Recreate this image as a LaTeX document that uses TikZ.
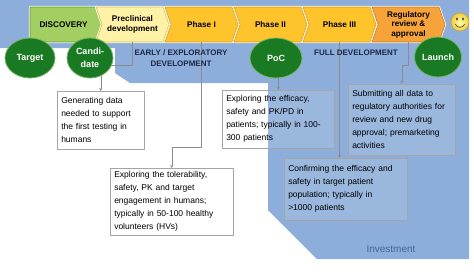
\documentclass[tikz,border=0pt]{standalone}
\usepackage{fontspec}
\setmainfont{Liberation Sans}
\usetikzlibrary{shapes.geometric,shapes.symbols}
\definecolor{invblue}{RGB}{141,174,218}
\definecolor{discgreen}{RGB}{163,207,98}
\definecolor{discedge}{RGB}{104,150,52}
\definecolor{preyellow}{RGB}{255,242,166}
\definecolor{preedge}{RGB}{214,190,90}
\definecolor{phaseyellow}{RGB}{255,196,44}
\definecolor{phaseedge}{RGB}{212,158,30}
\definecolor{regorange}{RGB}{246,164,58}
\definecolor{regedge}{RGB}{200,124,32}
\definecolor{milegreen}{RGB}{26,122,36}
\definecolor{mileedge}{RGB}{120,180,100}
\definecolor{navy}{RGB}{28,40,72}
\definecolor{linegray}{RGB}{140,140,140}
\definecolor{boxedge}{RGB}{165,165,165}
\definecolor{invtext}{RGB}{70,100,150}
\definecolor{smileyellow}{RGB}{240,205,60}
\begin{document}
\begin{tikzpicture}[x=1pt, y=-1pt, line join=round, >=stealth,
	chevron/.style={signal, signal to=east, signal from=west, signal pointer angle=142,
		minimum width=73pt, minimum height=35pt, inner sep=0pt, align=center,
		font=\fontsize{8.2}{9.4}\selectfont\bfseries, line width=0.6pt,
		preaction={draw=white, line width=2.2pt}},
	milestone/.style={ellipse, fill=milegreen, draw=mileedge, line width=0.8pt, inner sep=0pt,
		minimum height=40pt, text=white, align=center, font=\fontsize{9}{12.5}\selectfont\bfseries},
	infobox/.style={draw=boxedge, line width=0.5pt, fill=white, fill opacity=0.12, text opacity=1,
		anchor=north west, align=left, inner xsep=4pt, inner ysep=2pt, font=\fontsize{8.5}{13}\selectfont},
	conn/.style={draw=linegray, line width=0.5pt, ->},
	stage/.style={text=navy, align=center, font=\fontsize{8}{11}\selectfont\bfseries}]
				
				\useasboundingbox (0,0) rectangle (474,271);
				
				\def\cy{24.5}
				\def\ey{58}
				
				\fill[invblue] (0,0) -- (469,0) -- (469,259) -- (317,259) -- (268,210) -- (268,83)
				-- (130,83) -- (115,73) -- (115,48) -- (0,48) -- cycle;
				
				\node[infobox, text width=79pt, minimum height=58pt] (gen) at (57,91)
				{Generating data\\needed to support\\the first testing in\\humans};
				\node[infobox, text width=115pt, minimum height=67pt] (tol) at (110,168)
				{Exploring the tolerability,\\safety, PK and target\\engagement in humans;\\typically in 50-100 healthy\\volunteers (HVs)};
				\node[infobox, text width=104pt, minimum height=58pt] (eff) at (222,90)
				{Exploring the efficacy,\\safety and PK/PD in\\patients; typically in 100-\\300 patients};
				\node[infobox, text width=99pt, minimum height=71pt] (sub) at (348,84)
				{Submitting all data to\\regulatory authorities for\\review and new drug\\approval; premarketing\\activities};
				\node[infobox, text width=115pt, minimum height=62pt] (conf) at (284,158)
				{Confirming the efficacy and\\safety in target patient\\population; typically in\\>1000 patients};
				
				\node[chevron, signal from=nowhere, fill=discgreen, draw=discedge] (disc) at (63.5,\cy) {DISCOVERY};
				\node[chevron, fill=preyellow, draw=preedge] (pre) at (132.5,\cy) {Preclinical\\development};
				\node[chevron, fill=phaseyellow, draw=phaseedge] (p1) at (201.5,\cy) {Phase I};
				\node[chevron, fill=phaseyellow, draw=phaseedge] (p2) at (270.5,\cy) {Phase II};
				\node[chevron, fill=phaseyellow, draw=phaseedge] (p3) at (339.5,\cy) {Phase III};
				\node[chevron, fill=regorange, draw=regedge] (reg) at (408.5,\cy) {Regulatory\\review \&\\approval};
				
				\draw[conn] (pre.south) -- ++(0,23) -| (gen.north);
				\draw[conn] (p1.south) -- ++(0,105) -| (tol.north);
				\draw[conn] (p2.south -| eff.north) -- (eff.north);
				\draw[conn] (p3.south) -- (p3.south |- conf.north);
				\draw[conn] (reg.south) -- ++(0,23) -| (sub.north);
				
				\node[milestone, minimum width=50pt] (target) at (30,\ey) {Target};
				\node[milestone, minimum width=46pt] (cand) at (90,\ey) {Candi-\\date};
				\node[milestone, minimum width=52pt] (poc) at (276,\ey) {PoC};
				\node[milestone, minimum width=47pt] (launch) at (438,57) {Launch};
				
				\node[stage] (early) at (181,58.5) {EARLY / EXPLORATORY\\DEVELOPMENT};
				\node[stage] (full) at (356,53) {FULL DEVELOPMENT};
				\node[text=invtext, font=\fontsize{10}{12}\selectfont] (inv) at (391,249) {Investment};
				
				% smiley
				\shade[inner color=yellow!35, outer color=smileyellow, draw=phaseedge, line width=0.5pt] (460,22) circle (9);
				\fill[black!75] (457,19) ellipse (1 and 1.7);
				\fill[black!75] (463,19) ellipse (1 and 1.7);
				\draw[black!75, line width=0.6pt, line cap=round] (455,24) .. controls (458,28.5) and (462,28.5) .. (465,24);
				
\end{tikzpicture}
\end{document}
